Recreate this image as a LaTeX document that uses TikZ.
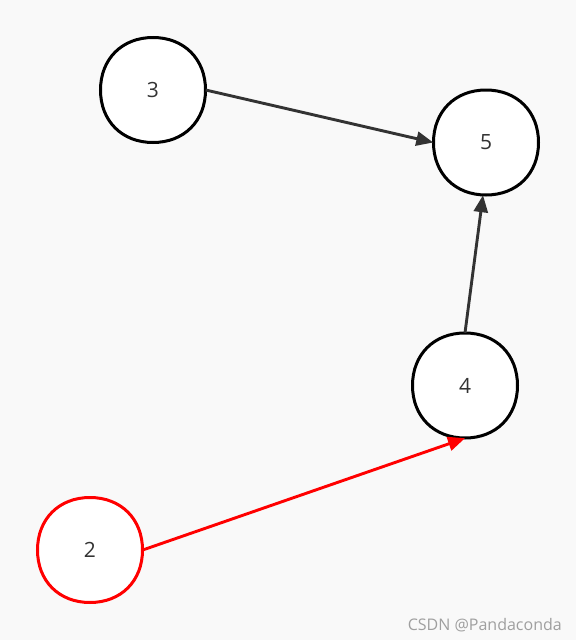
\documentclass[tikz,border=0pt]{standalone}
\usepackage{fontspec}
\setmainfont{Open Sans}
\usetikzlibrary{arrows.meta,calc}
\definecolor{bg}{HTML}{F9F9F9}
\definecolor{ink}{HTML}{333333}
\tikzset{
  vert/.style={circle, minimum size=105pt, font=\fontsize{21pt}{24pt}\selectfont, text=ink, inner sep=0pt},
  outline/.style={line width=3pt, fill=white},
  link/.style={draw=ink, line width=2.9pt, -{Triangle[length=17pt,width=14pt]}},
  redlink/.style={link, draw=red, -{Triangle[length=17pt,width=14pt,fill=red]}}
}
\newcommand\squircle[2]{%
  \draw[outline, draw=#2] ($(#1)+(0,-52.5)$)
    .. controls +(31,0) and +(0,-31) .. ($(#1)+(52.5,0)$)
    .. controls +(0,31) and +(31,0) .. ($(#1)+(0,52.5)$)
    .. controls +(-31,0) and +(0,31) .. ($(#1)+(-52.5,0)$)
    .. controls +(0,-31) and +(-31,0) .. cycle;}
\begin{document}
\begin{tikzpicture}[x=1pt,y=-1pt]
\fill[bg] (0,0) rectangle (576,640);
\useasboundingbox (0,0) rectangle (576,640);
\coordinate (c3) at (153,90);
\coordinate (c5) at (486,142.5);
\coordinate (c4) at (465,385.5);
\coordinate (c2) at (90,550);
\squircle{c3}{black}
\squircle{c5}{black}
\squircle{c4}{black}
\squircle{c2}{red}
\node[vert] (n3) at (c3) {3};
\node[vert] (n5) at (c5) {5};
\node[vert] (n4) at (c4) {4};
\node[vert] (n2) at (c2) {2};
\draw[link] (n3.east) -- (n5.west);
\draw[link] (n4.north) -- ($(n5.south)+(-3,0)$);
\draw[redlink] (n2.east) -- (n4.south);
\node[anchor=base east, text=gray!75, font=\fontsize{16pt}{18pt}\selectfont, inner sep=0pt] (wm) at (562,630) {CSDN @Pandaconda};
\end{tikzpicture}
\end{document}
